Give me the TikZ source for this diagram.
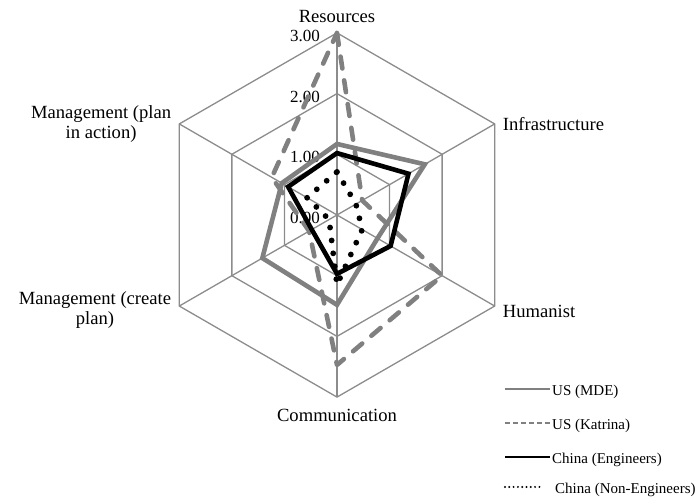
\documentclass[tikz,border=0pt]{standalone}
\usepackage{fontspec}
\setmainfont{Liberation Serif}
\usetikzlibrary{positioning}
\definecolor{gridGray}{RGB}{140, 140, 140}
\definecolor{seriesGray}{RGB}{128, 128, 128}
\newcommand{\rU}{60.7}
\tikzset{
    % --- axis and tick labels ---
    axisLabel/.style={
        font=\fontsize{18.6}{19.5}\selectfont, align=center, inner sep=2pt
    },
    tickLabel/.style={
        font=\fontsize{17}{19.5}\selectfont, anchor=east, inner sep=0pt
    },
    % --- web ---
    gridLine/.style={
        draw=gridGray, line width=1.3pt, line join=miter
    },
    % --- series ---
    seriesMDE/.style={
        draw=seriesGray, line width=4.6pt, line join=miter
    },
    seriesKatrina/.style={
        draw=seriesGray, line width=4.6pt, line cap=round, line join=round,
        dash pattern=on 12pt off 12pt
    },
    seriesEng/.style={
        draw=black, line width=4.6pt, line join=miter
    },
    seriesNonEng/.style={
        draw=black, line width=5.8pt, line cap=round,
        dash pattern=on 0pt off 13pt
    },
    % --- legend ---
    legendText/.style={
        font=\fontsize{15}{17}\selectfont, anchor=west, inner sep=0pt, yshift=-3pt
    },
    legMDE/.style={draw=seriesGray, line width=2.4pt},
    legKatrina/.style={draw=seriesGray, line width=2.4pt, dash pattern=on 5pt off 3pt},
    legEng/.style={draw=black, line width=2.4pt},
    legNonEng/.style={draw=black, line width=2.2pt, line cap=round, dash pattern=on 0pt off 4.3pt}
}

\begin{document}
\begin{tikzpicture}[x=1pt, y=1pt]

	\useasboundingbox (0,0) rectangle (697,500);

	% =========================================
	% 1. Web
	% =========================================
	\begin{scope}[shift={(337,285)}]

	\foreach \lvl in {1,2,3}
		\draw[gridLine] (90:{\lvl*\rU}) -- (30:{\lvl*\rU}) -- (-30:{\lvl*\rU})
			-- (-90:{\lvl*\rU}) -- (-150:{\lvl*\rU}) -- (150:{\lvl*\rU}) -- cycle;

	\coordinate (ctr) at (0,0);
	\foreach \ang/\id in {90/res, 30/inf, -30/hum, -90/com, -150/cre, 150/act}
		\draw[gridLine] (ctr) -- (\ang:{3*\rU}) coordinate (v\id);

	% tick labels
	\foreach \lvl in {0,1,2,3}
		\node[tickLabel] (tick\lvl) at (-17,{\lvl*\rU-3}) {\lvl.00};

	% =========================================
	% 2. Series
	% =========================================
	% US (MDE)
	\draw[seriesMDE] (90:{1.17*\rU}) -- (30:{1.67*\rU}) -- (-30:{0.77*\rU})
		-- (-90:{1.48*\rU}) -- (-150:{1.42*\rU}) -- (150:{1.05*\rU}) -- cycle;

	% US (Katrina)
	\draw[seriesKatrina] (90:{3.00*\rU}) -- (30:{0.48*\rU}) -- (-30:{2.00*\rU})
		-- (-90:{2.47*\rU}) -- (-150:{0.53*\rU}) -- (150:{1.24*\rU}) -- cycle;

	% China (Engineers)
	\draw[seriesEng] (90:{1.02*\rU}) -- (30:{1.36*\rU}) -- (-30:{1.02*\rU})
		-- (-90:{0.97*\rU}) -- (-150:{0.48*\rU}) -- (150:{0.93*\rU}) -- cycle;

	% China (Non-Engineers)
	\draw[seriesNonEng] (90:{0.71*\rU}) -- (30:{0.36*\rU}) -- (-30:{0.48*\rU})
		-- (-90:{1.15*\rU}) -- (-150:{0.15*\rU}) -- (150:{0.57*\rU}) -- cycle;

	% =========================================
	% 3. Axis labels
	% =========================================
	\node[axisLabel, above=8pt of vres] (lblRes) {Resources};
	\node[axisLabel, right=6pt of vinf] (lblInf) {Infrastructure};
	\node[axisLabel, right=6pt of vhum, yshift=-5pt] (lblHum) {Humanist};
	\node[axisLabel, below=10pt of vcom] (lblCom) {Communication};
	\node[axisLabel, left=6pt of vcre, yshift=-4pt] (lblCre) {Management (create\\plan)};
	\node[axisLabel, left=6pt of vact] (lblAct) {Management (plan\\in action)};

	\end{scope}

	% =========================================
	% 4. Legend
	% =========================================
	\coordinate (legA1) at (505,111); \coordinate (legA2) at (550,111);
	\coordinate (legB1) at (505,77);  \coordinate (legB2) at (550,77);
	\coordinate (legC1) at (505,43);  \coordinate (legC2) at (550,43);
	\coordinate (legD1) at (505,13);  \coordinate (legD2) at (543,13);

	\draw[legMDE] (legA1) -- (legA2);
	\node[legendText, right=2pt of legA2] (legTxtA) {US (MDE)};

	\draw[legKatrina] (legB1) -- (legB2);
	\node[legendText, right=2pt of legB2] (legTxtB) {US (Katrina)};

	\draw[legEng] (legC1) -- (legC2);
	\node[legendText, right=2pt of legC2] (legTxtC) {China (Engineers)};

	\draw[legNonEng] (legD1) -- (legD2);
	\node[legendText, right=12pt of legD2] (legTxtD) {China (Non-Engineers)};

\end{tikzpicture}
\end{document}
